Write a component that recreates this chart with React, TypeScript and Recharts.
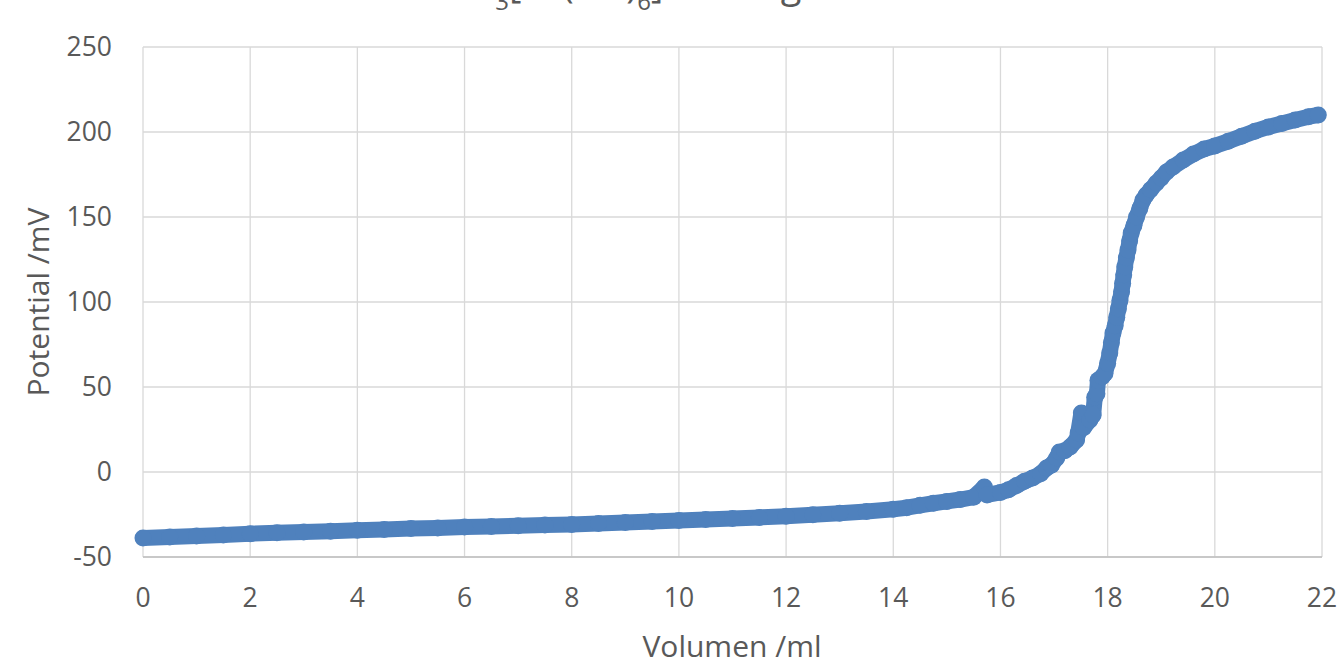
import { ScatterChart, Scatter, XAxis, YAxis, CartesianGrid, Label } from "recharts";

// Titration curve
const volumen = [
  0, 0.5, 1, 1.5, 2, 2.5, 3, 3.5, 4, 4.5, 5, 5.5, 6, 6.5, 7, 7.5, 8, 8.5, 9, 9.5,
  10, 10.5, 11, 11.5, 12, 12.5, 13, 13.5, 14, 14.25, 14.5, 14.75, 15, 15.25, 15.5, 15.7,
  15.75, 16, 16.15, 16.3, 16.45, 16.6, 16.75, 16.86, 16.95, 17.05, 17.1, 17.2, 17.3, 17.42,
  17.45, 17.51, 17.55, 17.67, 17.73, 17.76, 17.8, 17.82, 17.9, 17.95, 18.0, 18.04, 18.07, 18.1,
  18.14, 18.17, 18.2, 18.23, 18.26, 18.28, 18.3, 18.32, 18.35, 18.38, 18.41, 18.44, 18.49, 18.54,
  18.6, 18.66, 18.72, 18.8, 18.91, 19.0, 19.1, 19.22, 19.41, 19.6, 19.8, 20.0, 20.25, 20.5,
  20.75, 21.0, 21.25, 21.5, 21.75, 21.93,
];

const potential = [
  -38.8, -38.3, -37.6, -37, -36.3, -35.8, -35.3, -34.8, -34.3, -33.8, -33.3, -32.9, -32.4, -32, -31.6, -31.2, -30.9, -30.3, -29.7, -29.1,
  -28.5, -27.9, -27.3, -26.7, -26, -25.2, -24.3, -23.2, -21.9, -21, -19.6, -18.4, -17.3, -16.2, -14.8, -8.8,
  -13.5, -12, -10.5, -8, -5.5, -3.5, -1, 2.3, 4, 8.2, 11.8, 12.5, 14.7, 18.8,
  22.9, 34.7, 26, 30.6, 33.5, 44, 46, 54, 56, 58, 64, 70, 76, 81.8,
  86, 91, 96, 101, 106, 111, 116, 120.6, 126, 130.6, 136, 140.6, 145, 150,
  155, 160, 163, 166, 170, 173, 176.5, 179.4, 183.5, 187, 190, 191.8, 194.5, 197.5,
  200.5, 203, 205, 207, 209, 210,
];

const xTicks = [0, 2, 4, 6, 8, 10, 12, 14, 16, 18, 20, 22];
const yTicks = [-50, 0, 50, 100, 150, 200, 250];

const BLUE = "#4f81bd";
const TEXT = "#595959";
const FONT = "'Open Sans', sans-serif";

const data = volumen.map((v, i) => ({ v, p: potential[i] }));

export default function App() {
  return (
    <div style={{ position: "absolute", top: 0, left: 0, width: 1343, height: 668, background: "#fff", fontFamily: FONT }}>
      <ScatterChart width={1343} height={668} margin={{ top: 47, right: 21, bottom: 0, left: 0 }}>
        <CartesianGrid stroke="#d9d9d9" strokeWidth={1.3} />
        <XAxis
          type="number"
          dataKey="v"
          domain={[0, 22]}
          ticks={xTicks}
          height={111}
          tickSize={0}
          tickMargin={31}
          tickLine={false}
          axisLine={{ stroke: "#bfbfbf", strokeWidth: 1.5 }}
          tick={{ fill: TEXT, fontSize: 26.5, fontFamily: FONT }}
          interval={0}
        >
          <Label
            content={() => (
              <text x={732} y={657} textAnchor="middle" fill={TEXT} fontSize={30} fontFamily={FONT}>
                Volumen /ml
              </text>
            )}
          />
        </XAxis>
        <YAxis
          type="number"
          dataKey="p"
          domain={[-50, 250]}
          ticks={yTicks}
          width={143}
          tickSize={0}
          tickMargin={31}
          tickLine={false}
          axisLine={false}
          tick={{ fill: TEXT, fontSize: 26.5, fontFamily: FONT }}
          interval={0}
        >
          <Label
            content={() => (
              <text
                x={37}
                y={302}
                transform="rotate(-90 37 302)"
                textAnchor="middle"
                dominantBaseline="central"
                fill={TEXT}
                fontSize={30}
                fontFamily={FONT}
              >
                Potential /mV
              </text>
            )}
          />
        </YAxis>
        <Scatter
          data={data}
          fill={BLUE}
          isAnimationActive={false}
          line={{ stroke: BLUE, strokeWidth: 16, strokeLinecap: "round", strokeLinejoin: "round" }}
          lineType="joint"
          shape={(props: any) => <circle cx={props.cx} cy={props.cy} r={8.5} fill={BLUE} />}
        />
      </ScatterChart>
      <svg width={1343} height={40} style={{ position: "absolute", top: 0, left: 0 }}>
        <text x={472} y={-2} fill={TEXT} fontSize={38} fontFamily={FONT}>
          K<tspan fontSize={24} dy={12}>3</tspan>
          <tspan dy={-12}>[Fe(CN)</tspan>
          <tspan fontSize={24} dy={12}>6</tspan>
          <tspan dy={-12}>] Lösung</tspan>
        </text>
      </svg>
    </div>
  );
}
